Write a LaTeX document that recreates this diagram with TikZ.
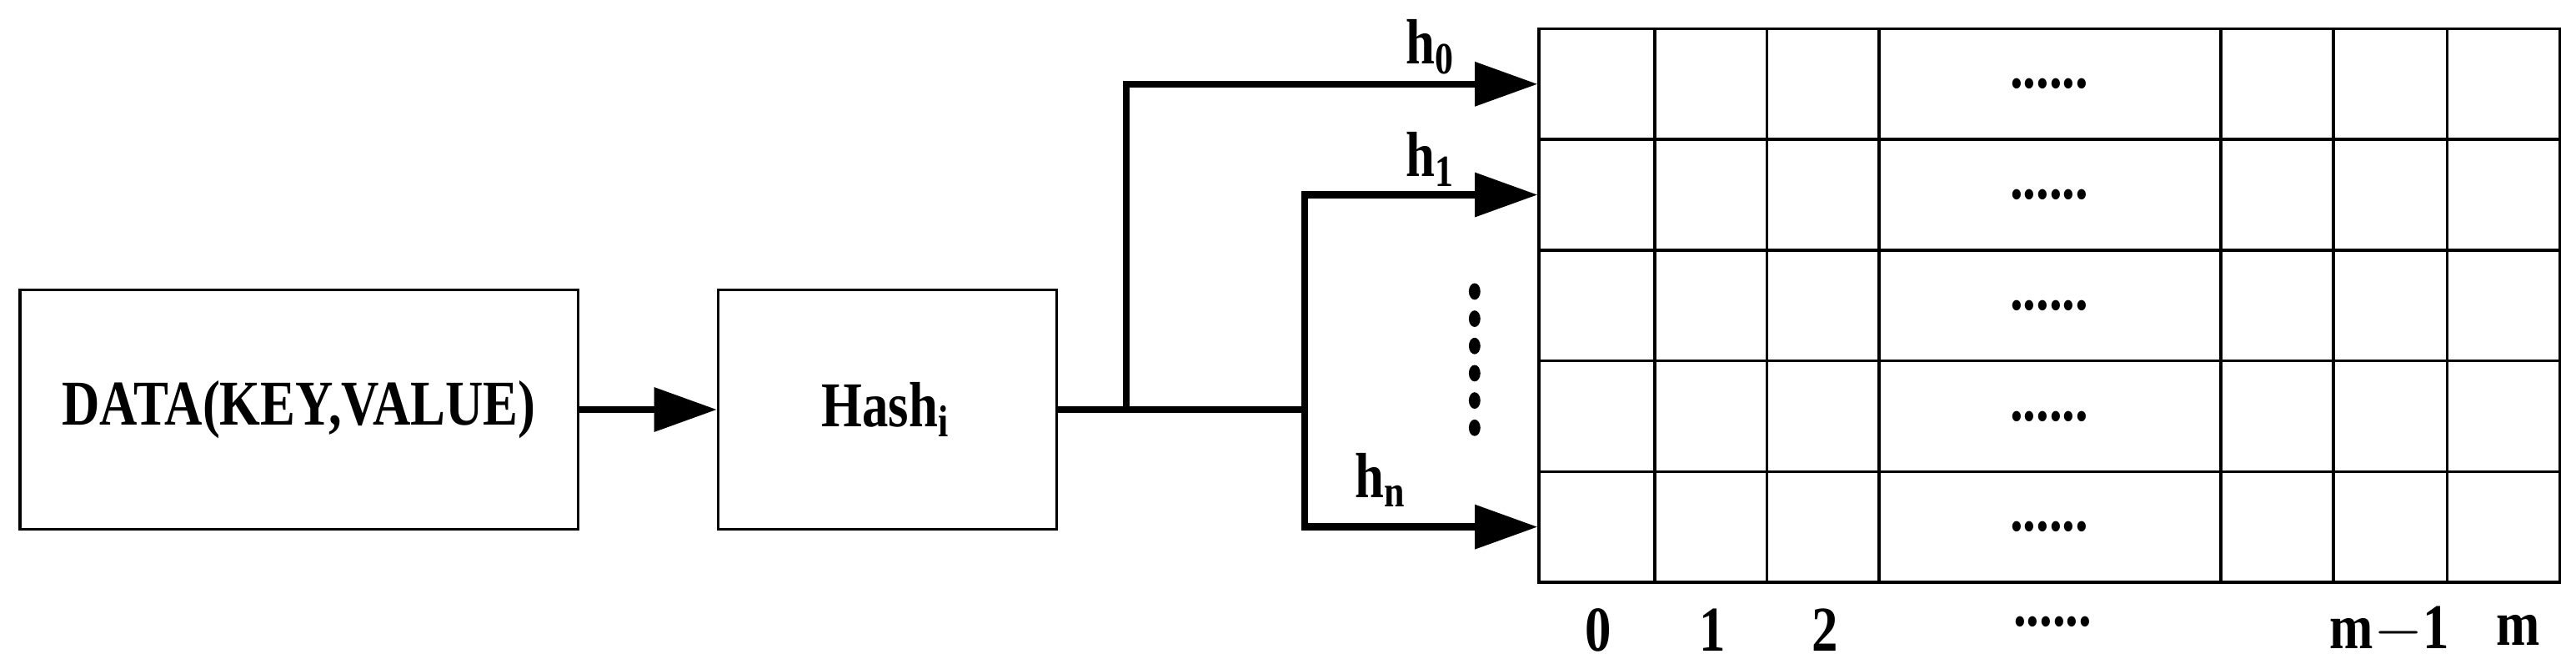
\documentclass[tikz,border=0pt]{standalone}
\usepackage{fontspec}
\setmainfont{Liberation Serif}[FakeStretch=0.82]
\usetikzlibrary{arrows.meta, positioning}
\tikzset{
  blockbox/.style={rectangle, draw, line width=0.5pt, minimum height=1.45cm, inner sep=0pt, align=center, font=\bfseries\fontsize{11}{13}\selectfont},
  rowbox/.style={rectangle, draw, line width=0.5pt, minimum width=6.18cm, minimum height=0.67cm, inner sep=0pt},
  lbl/.style={font=\bfseries\fontsize{11}{13}\selectfont},
  arr/.style={-{Triangle[length=0.38cm, width=0.26cm]}, line width=1.2pt},
  ln/.style={line width=1.2pt},
  dotsl/.style={font=\bfseries\fontsize{11}{13}\selectfont},
}
\begin{document}
\begin{tikzpicture}
  \useasboundingbox (0,0) rectangle (15.6,3.984);
  % Input blocks
  \node[blockbox, minimum width=3.38cm] (data) at (1.81,1.505) {DATA(KEY,VALUE)};
  \node[blockbox, minimum width=2.05cm] (hash) at (5.375,1.505) {Hash$_{\mathbf{i}}$};

  % Table rows
  \foreach \r in {1,...,5}
    \node[rowbox] (r\r) at (12.41,{3.81-0.67*\r+0.335}) {};
  \foreach \x in {10.02,10.70,11.38,13.45,14.13,14.82}
    \draw[line width=0.5pt] (\x,3.81) -- (\x,0.46);
  \foreach \r in {1,...,5}
    \node[dotsl] at (r\r.center) {......};

  % Column labels
  \node[lbl] (c0) at (9.68,0.17) {0};
  \node[lbl] (c1) at (10.37,0.17) {1};
  \node[lbl] (c2) at (11.05,0.17) {2};
  \node[lbl] (cd) at (12.43,0.22) {......};
  \node[lbl] (cm1) at (14.47,0.17) {m$-$1};
  \node[lbl] (cm) at (15.25,0.17) {m};

  % Branches
  \coordinate (b0) at (6.82,1.505);
  \coordinate (b1) at (7.90,1.505);
  \draw[arr] (data) -- (hash);
  \draw[ln] (hash.east) -- (b1);
  \draw[arr] (b0) |- (r1.west);
  \draw[arr] (b1) |- (r2.west);
  \draw[arr] (b1) |- (r5.west);
  \node[lbl] (h0) at (8.68,3.70) {h$_{\mathbf{0}}$};
  \node[lbl] (h1) at (8.68,3.02) {h$_{\mathbf{1}}$};
  \node[lbl] (hn) at (8.38,1.08) {h$_{\mathbf{n}}$};
  \foreach \k in {0,...,5}
    \fill (8.93,{2.22-0.165*\k}) ellipse (0.035 and 0.05);
\end{tikzpicture}
\end{document}
